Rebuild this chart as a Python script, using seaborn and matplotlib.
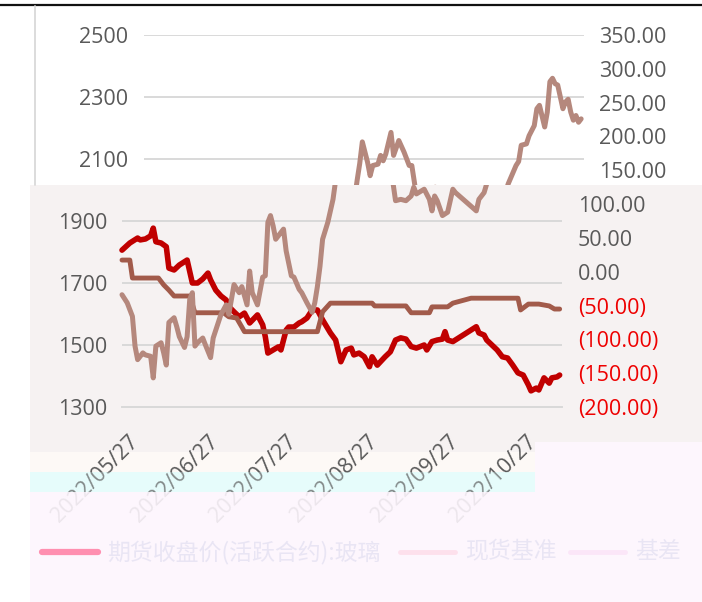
import matplotlib
matplotlib.use("Agg")
import matplotlib.pyplot as plt
import seaborn as sns
import pandas as pd
from matplotlib.patches import Rectangle
from matplotlib.lines import Line2D
from matplotlib.transforms import ScaledTranslation

# ---------------- data ----------------
fut_dates = ["2022-05-27", "2022-05-30", "2022-06-02", "2022-06-03", "2022-06-05", "2022-06-07",
             "2022-06-08", "2022-06-09", "2022-06-11", "2022-06-13", "2022-06-14", "2022-06-16",
             "2022-06-18", "2022-06-21", "2022-06-23", "2022-06-25", "2022-06-27", "2022-06-29",
             "2022-06-30", "2022-07-02", "2022-07-04", "2022-07-06", "2022-07-07", "2022-07-09",
             "2022-07-11", "2022-07-13", "2022-07-15", "2022-07-18", "2022-07-20", "2022-07-21",
             "2022-07-22", "2022-07-24", "2022-07-26", "2022-07-27", "2022-07-29", "2022-07-30",
             "2022-08-01", "2022-08-03", "2022-08-04", "2022-08-06", "2022-08-08", "2022-08-10",
             "2022-08-12", "2022-08-15", "2022-08-17", "2022-08-19", "2022-08-21", "2022-08-23",
             "2022-08-24", "2022-08-26", "2022-08-28", "2022-08-30", "2022-08-31", "2022-09-02",
             "2022-09-05", "2022-09-07", "2022-09-09", "2022-09-11", "2022-09-13", "2022-09-15",
             "2022-09-17", "2022-09-20", "2022-09-21", "2022-09-23", "2022-09-25", "2022-09-27",
             "2022-09-28", "2022-09-29", "2022-10-01", "2022-10-04", "2022-10-07", "2022-10-10",
             "2022-10-11", "2022-10-13", "2022-10-14", "2022-10-16", "2022-10-18", "2022-10-20",
             "2022-10-22", "2022-10-24", "2022-10-26", "2022-10-28", "2022-10-30", "2022-10-31",
             "2022-11-02", "2022-11-03", "2022-11-05", "2022-11-07", "2022-11-08", "2022-11-10",
             "2022-11-11"]
fut_vals = [1806, 1829, 1845, 1839, 1842, 1852,
            1877, 1833, 1829, 1817, 1748, 1742,
            1758, 1774, 1700, 1700, 1713, 1732,
            1710, 1677, 1658, 1645, 1624, 1607,
            1591, 1603, 1571, 1597, 1565, 1527,
            1474, 1484, 1494, 1484, 1548, 1558,
            1558, 1571, 1575, 1587, 1613, 1613,
            1581, 1539, 1516, 1446, 1484, 1490,
            1468, 1474, 1462, 1430, 1462, 1435,
            1462, 1478, 1516, 1523, 1519, 1495,
            1490, 1500, 1484, 1511, 1516, 1519,
            1543, 1516, 1511, 1527, 1543, 1559,
            1539, 1532, 1516, 1500, 1484, 1462,
            1458, 1435, 1410, 1403, 1371, 1352,
            1361, 1355, 1394, 1377, 1394, 1397,
            1403]

spot_dates = ["2022-05-27", "2022-05-30", "2022-05-31", "2022-06-10", "2022-06-12", "2022-06-14",
              "2022-06-16", "2022-06-22", "2022-06-24", "2022-07-05", "2022-07-07", "2022-07-10",
              "2022-07-12", "2022-07-13", "2022-08-10", "2022-08-12", "2022-08-15", "2022-08-31",
              "2022-09-01", "2022-09-13", "2022-09-15", "2022-09-22", "2022-09-23", "2022-09-29",
              "2022-10-01", "2022-10-08", "2022-10-26", "2022-10-27", "2022-10-30", "2022-11-03",
              "2022-11-07", "2022-11-09", "2022-11-11"]
spot_vals = [1774, 1774, 1716, 1716, 1694, 1677,
             1658, 1658, 1604, 1604, 1591, 1587,
             1558, 1543, 1543, 1607, 1635, 1635,
             1626, 1626, 1604, 1604, 1623, 1623,
             1635, 1651, 1651, 1613, 1632, 1632,
             1626, 1616, 1616]

basis_dates = ["2022-05-27", "2022-05-29", "2022-05-31", "2022-06-01", "2022-06-02", "2022-06-04",
               "2022-06-05", "2022-06-07", "2022-06-08", "2022-06-09", "2022-06-11", "2022-06-12",
               "2022-06-13", "2022-06-14", "2022-06-16", "2022-06-17", "2022-06-18", "2022-06-20",
               "2022-06-21", "2022-06-22", "2022-06-23", "2022-06-24", "2022-06-25", "2022-06-27",
               "2022-06-28", "2022-06-30", "2022-07-01", "2022-07-04", "2022-07-06", "2022-07-07",
               "2022-07-09", "2022-07-11", "2022-07-12", "2022-07-14", "2022-07-15", "2022-07-16",
               "2022-07-18", "2022-07-20", "2022-07-21", "2022-07-22", "2022-07-23", "2022-07-24",
               "2022-07-25", "2022-07-27", "2022-07-28", "2022-07-29", "2022-07-31", "2022-08-01",
               "2022-08-03", "2022-08-04", "2022-08-06", "2022-08-08", "2022-08-09", "2022-08-10",
               "2022-08-11", "2022-08-12", "2022-08-14", "2022-08-16", "2022-08-17", "2022-08-18",
               "2022-08-19", "2022-08-21", "2022-08-22", "2022-08-23", "2022-08-25", "2022-08-26",
               "2022-08-27", "2022-08-28", "2022-08-30", "2022-08-31", "2022-09-02", "2022-09-04",
               "2022-09-06", "2022-09-07", "2022-09-08", "2022-09-09", "2022-09-11", "2022-09-13",
               "2022-09-15", "2022-09-16", "2022-09-17", "2022-09-20", "2022-09-22", "2022-09-23",
               "2022-09-24", "2022-09-25", "2022-09-27", "2022-09-29", "2022-10-01", "2022-10-02",
               "2022-10-10", "2022-10-11", "2022-10-13", "2022-10-14", "2022-10-17", "2022-10-18",
               "2022-10-19", "2022-10-21", "2022-10-22", "2022-10-24", "2022-10-25", "2022-10-26",
               "2022-10-28", "2022-10-29", "2022-10-30", "2022-10-31", "2022-11-01", "2022-11-02",
               "2022-11-04", "2022-11-05", "2022-11-06", "2022-11-07", "2022-11-08", "2022-11-09",
               "2022-11-10", "2022-11-11"]
basis_vals = [-34, -46, -66, -110, -130, -120,
              -123, -125, -157, -110, -105, -120,
              -138, -75, -68, -81, -96, -112,
              -96, -41, -31, -110, -105, -98,
              -108, -127, -98, -63, -49, -63,
              -19, -31, -22, -49, 1, -31,
              -49, -8, -6, 73, 83, 68,
              48, 58, 63, 31, -6, -8,
              -26, -31, -46, -60, -46, -22,
              8, 48, 73, 107, 135, 160,
              192, 162, 142, 157, 159, 172,
              164, 174, 206, 172, 194, 177,
              157, 157, 132, 105, 107, 105,
              112, 125, 115, 122, 107, 90,
              112, 105, 83, 88, 122, 117,
              90, 107, 117, 130, 157, 163,
              187, 189, 201, 216, 241, 246,
              214, 236, 281, 286, 278, 276,
              241, 251, 255, 236, 224, 231,
              221, 226]

series_names = ["期货收盘价(活跃合约):玻璃", "现货基准", "基差"]
xtick_dates = ["2022-05-27", "2022-06-27", "2022-07-27", "2022-08-27", "2022-09-27", "2022-10-27"]
xtick_labels = ["2022/05/27", "2022/06/27", "2022/07/27", "2022/08/27", "2022/09/27", "2022/10/27"]
left_ticks = [1300, 1500, 1700, 1900, 2100, 2300, 2500]
right_ticks = [-200, -150, -100, -50, 0, 50, 100, 150, 200, 250, 300, 350]

# ---------------- style ----------------
sns.set_style("white")
plt.rcParams["font.family"] = ["Open Sans", "Noto Sans CJK SC", "DejaVu Sans"]

C_FUT = "#c00000"
C_SPOT = "#a25b4b"
C_BASIS = "#b5887d"
C_GRID = "#d9d9d9"
C_TXT = "#595959"

W, H = 702, 602
fig = plt.figure(figsize=(W / 100, H / 100), dpi=100)
fig.patch.set_facecolor("white")


def fx(x):
    return x / W


def fy(y):
    return 1 - y / H


def rect(x0, y0, x1, y1, color, z, alpha=1.0):
    r = Rectangle((fx(x0), fy(y1)), (x1 - x0) / W, (y1 - y0) / H, transform=fig.transFigure,
                  facecolor=color, edgecolor="none", zorder=z, alpha=alpha)
    fig.add_artist(r)
    return r


fut_x = pd.to_datetime(fut_dates)
spot_x = pd.to_datetime(spot_dates)
basis_x = pd.to_datetime(basis_dates)
x0 = pd.Timestamp("2022-05-27")
x1 = x0 + pd.Timedelta(days=168.9)


def rfmt(v):
    return f"{v:.2f}" if v >= 0 else f"({abs(v):.2f})"


def make_chart(left_px, z, lower):
    ax = fig.add_axes([fx(left_px), fy(407), 440 / W, 372 / H])
    ax2 = ax.twinx()
    ax.set_zorder(z)
    ax2.set_zorder(z + 0.1)
    for a in (ax, ax2):
        a.patch.set_visible(False)
        for s in a.spines.values():
            s.set_visible(False)
    sns.lineplot(x=fut_x, y=fut_vals, ax=ax, color=C_FUT, linewidth=4.0, sort=False, estimator=None)
    sns.lineplot(x=spot_x, y=spot_vals, ax=ax, color=C_SPOT, linewidth=3.5, sort=False, estimator=None)
    sns.lineplot(x=basis_x, y=basis_vals, ax=ax2, color=C_BASIS, linewidth=3.6, sort=False, estimator=None)
    for ln in ax.lines + ax2.lines:
        ln.set_solid_joinstyle("round")
        ln.set_solid_capstyle("round")
    ax.set_xlim(x0, x1)
    ax.set_ylim(1300, 2500)
    ax2.set_ylim(-200, 350)
    ax.set_xlabel("")
    ax.set_ylabel("")
    ax2.set_ylabel("")
    if lower:
        lt = [t for t in left_ticks if t <= 1900]
        rt = [t for t in right_ticks if t <= 100]
    else:
        lt = [t for t in left_ticks if t >= 2100]
        rt = [t for t in right_ticks if t >= 150]
    ax.set_yticks(lt)
    ax.set_yticklabels([str(t) for t in lt])
    ax2.set_yticks(rt)
    ax2.set_yticklabels([rfmt(t) for t in rt])
    ax.tick_params(axis="y", length=0, pad=10.8, labelsize=15.5, labelcolor=C_TXT)
    ax2.tick_params(axis="y", length=0, pad=11.5, labelsize=15.5)
    for lab, t in zip(ax2.get_yticklabels(), rt):
        lab.set_color("#ee0000" if t < 0 else C_TXT)
    ax.grid(axis="y", color=C_GRID, linewidth=1.4)
    ax.grid(axis="x", visible=False)
    ax.set_axisbelow(True)
    xt = pd.to_datetime(xtick_dates)
    ax.set_xticks(xt)
    if lower:
        ax.spines["bottom"].set_visible(True)
        ax.spines["bottom"].set_color(C_GRID)
        ax.spines["bottom"].set_linewidth(1.4)
        ax.set_xticklabels(xtick_labels, rotation=45, ha="right", va="center",
                           rotation_mode="anchor")
        ax.tick_params(axis="x", length=6.5, width=1.4, color=C_GRID, direction="out",
                       pad=0, labelsize=15.5, labelcolor=C_TXT)
        off = ScaledTranslation(0.13, -0.23, fig.dpi_scale_trans)
        for lab in ax.get_xticklabels():
            lab.set_transform(lab.get_transform() + off)
    else:
        ax.tick_params(axis="x", length=0, labelbottom=False)
    return ax, ax2


# upper (shifted) rendering, visible only in the white band
make_chart(143.5, 1, lower=False)

# opaque background bands
rect(30, 185, 702, 442, "#f6f2f2", 2)
rect(30, 442, 535, 452, "#f6f2f2", 2)
rect(30, 452, 535, 472, "#fdf9f6", 2)
rect(30, 472, 535, 492, "#e6fcfb", 2)
rect(30, 492, 702, 602, "#fdf6fd", 2)
rect(535, 442, 702, 492, "#fdf6fd", 2)

# lower rendering, clipped to the grey band
axl, axl2 = make_chart(122, 3, lower=True)
clip = Rectangle((fx(30), fy(452)), 672 / W, 267 / H, transform=fig.transFigure)
for ln in axl.lines + axl2.lines:
    ln.set_clip_path(clip)

# translucent washes over the lower text
rect(30, 472, 535, 492, "#e6fcfb", 5, alpha=0.3)
rect(30, 492, 702, 602, "#fdf6fd", 5, alpha=0.9)
rect(535, 442, 702, 492, "#fdf6fd", 5, alpha=0.9)

# frame lines
fig.add_artist(Line2D([0, 1], [fy(5), fy(5)], transform=fig.transFigure, color="#111111",
                      linewidth=1.6, zorder=6))
fig.add_artist(Line2D([fx(35), fx(35)], [fy(6), fy(185)], transform=fig.transFigure,
                      color=C_GRID, linewidth=1.3, zorder=6))

# faded legend
leg_y = fy(552)
leg_items = [(42, 98, 107, "#ff8fb0", 4.5), (400, 455, 465, "#fde0ec", 3.5), (570, 625, 635, "#fbe6f8", 3.5)]
for (lx0, lx1, tx, col, lw), name in zip(leg_items, series_names):
    fig.add_artist(Line2D([fx(lx0), fx(lx1)], [leg_y, leg_y], transform=fig.transFigure,
                          color=col, linewidth=lw, solid_capstyle="round", zorder=6))
    fig.text(fx(tx), leg_y, name, ha="left", va="center", fontsize=16.5, color="#e9e5f4",
             family=["Noto Sans CJK SC", "DejaVu Sans"], zorder=6)

fig.savefig("out.png", dpi=100)
